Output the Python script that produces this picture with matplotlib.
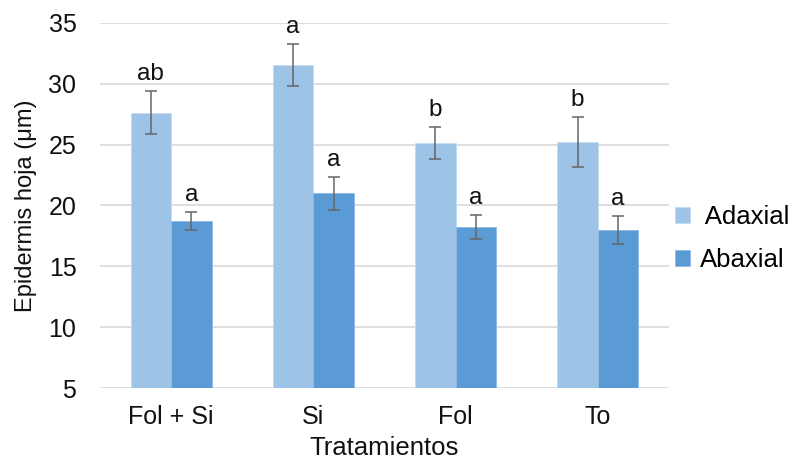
import matplotlib
matplotlib.use("Agg")
import matplotlib.pyplot as plt
import numpy as np

plt.rcParams['font.family'] = ['Liberation Sans', 'DejaVu Sans']

categories = ["Fol + Si", "Si", "Fol", "To"]
adaxial = [27.6, 31.5, 25.15, 25.2]
adaxial_err = [1.76, 1.73, 1.32, 2.07]
abaxial = [18.7, 21.0, 18.25, 17.95]
abaxial_err = [0.75, 1.34, 0.98, 1.15]
adaxial_letters = ["ab", "a", "b", "b"]
abaxial_letters = ["a", "a", "a", "a"]
yticks = [5, 10, 15, 20, 25, 30, 35]

W, H = 795, 461
fig = plt.figure(figsize=(W / 100, H / 100), dpi=100)
ax = fig.add_axes([100 / W, 1 - 388.3 / H, 569 / W, (388.3 - 22.7) / H])

x = np.arange(len(categories))
bw = 0.285
c_ad = "#9DC3E6"
c_ab = "#5B9BD5"
ecol = "#666666"

ax.bar(x - bw / 2, np.array(adaxial) - 5, bw, bottom=5, color=c_ad, edgecolor="#C5DCF0",
       linewidth=0.6, label=" Adaxial", zorder=2)
ax.bar(x + bw / 2, np.array(abaxial) - 5, bw, bottom=5, color=c_ab, edgecolor="#8DB9E3",
       linewidth=0.6, label="Abaxial", zorder=2)
ax.errorbar(x - bw / 2, adaxial, yerr=adaxial_err, fmt="none", ecolor=ecol,
            elinewidth=1.1, capsize=4.5, capthick=1.1, zorder=3)
ax.errorbar(x + bw / 2, abaxial, yerr=abaxial_err, fmt="none", ecolor=ecol,
            elinewidth=1.1, capsize=4.5, capthick=1.1, zorder=3)

for i in range(len(categories)):
    ax.annotate(adaxial_letters[i], (x[i] - bw / 2, adaxial[i] + adaxial_err[i]),
                xytext=(0, 8), textcoords="offset points", ha="center", va="baseline",
                fontsize=17.5, color="#111111")
    ax.annotate(abaxial_letters[i], (x[i] + bw / 2, abaxial[i] + abaxial_err[i]),
                xytext=(0, 8), textcoords="offset points", ha="center", va="baseline",
                fontsize=17.5, color="#111111")

ax.set_xlim(-0.5, len(categories) - 0.5)
ax.set_ylim(5, 35)
ax.set_yticks(yticks)
ax.set_yticklabels([str(v) for v in yticks], fontsize=18, color="#111111")
ax.set_xticks(x)
ax.set_xticklabels(categories, fontsize=18, color="#111111")
ax.tick_params(axis="both", length=0)
ax.tick_params(axis="y", pad=17)
ax.tick_params(axis="x", pad=12)
ax.yaxis.grid(True, color="#D9D9D9", linewidth=1.2, zorder=0)
ax.set_axisbelow(True)
for s in ax.spines.values():
    s.set_visible(False)

fig.text(26 / W, 1 - 206 / H, "Epidermis hoja (μm)", rotation=90, ha="center", va="center",
         fontsize=17, color="#111111")
fig.text(384 / W, 6 / H, "Tratamientos", ha="center", va="baseline", fontsize=18.5,
         color="#111111")

leg = ax.legend(loc="center left", bbox_to_anchor=(0.97, 0.41), frameon=False,
                fontsize=18.5, handlelength=0.6, handleheight=0.6, handletextpad=0.35,
                labelspacing=0.75)

fig.savefig("out.png", dpi=100)
